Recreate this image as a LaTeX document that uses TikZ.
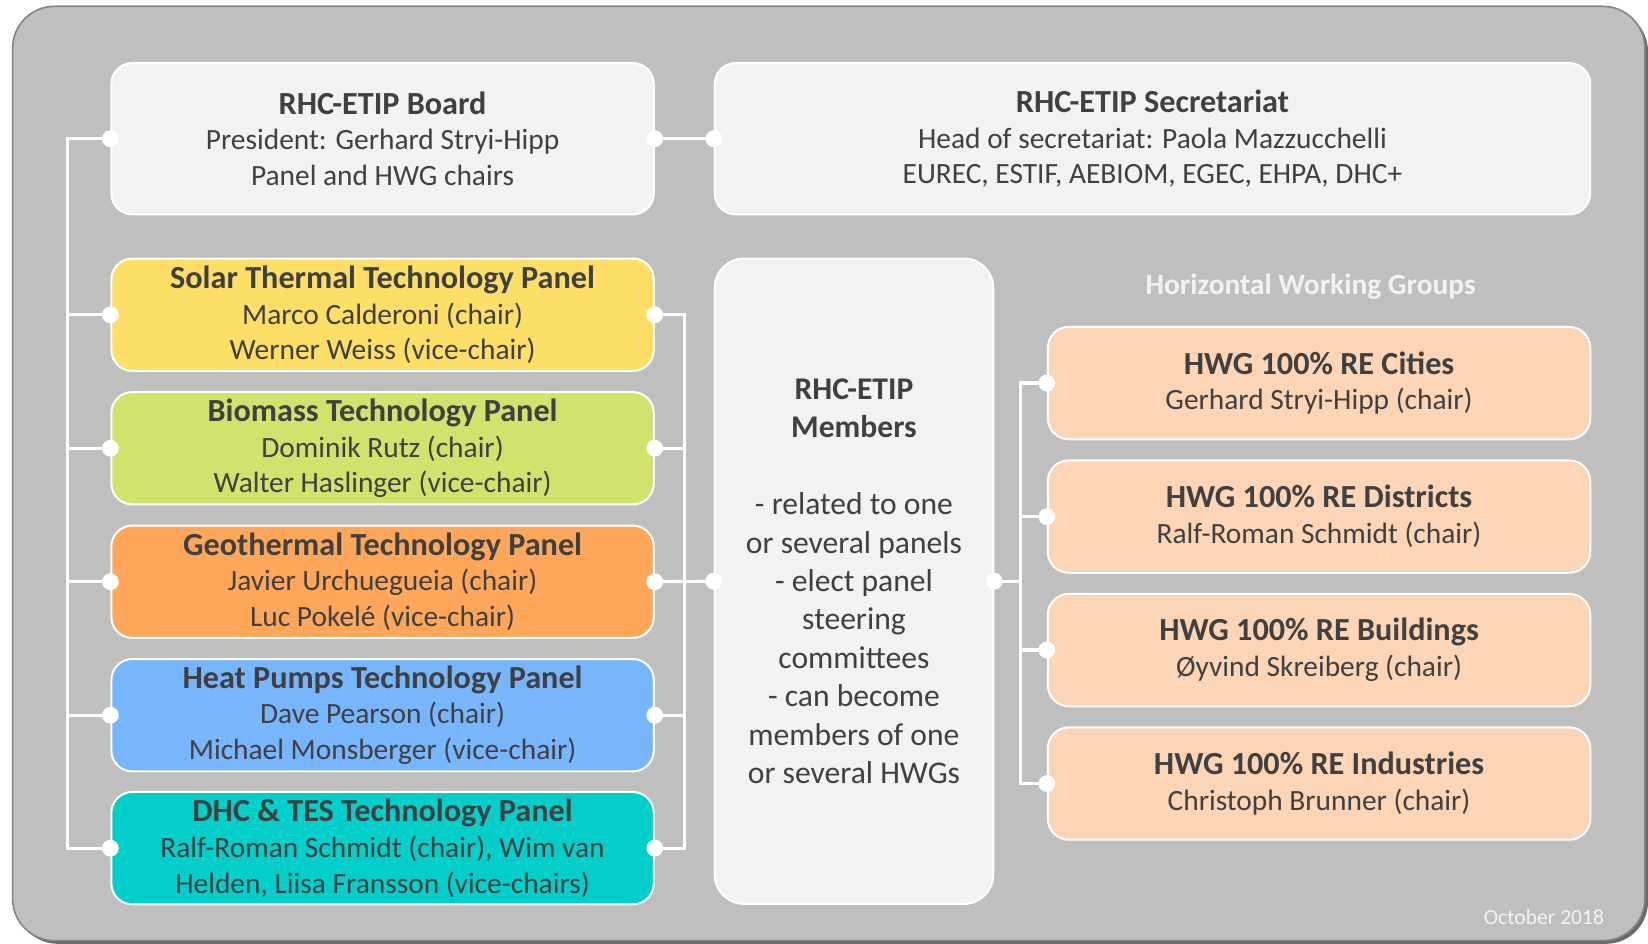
\documentclass[tikz,border=0pt]{standalone}
\usepackage{fontspec}
\setmainfont{Carlito}
\definecolor{bggray}{HTML}{BFBFBF}
\definecolor{rimgray}{HTML}{858585}
\definecolor{txtgray}{HTML}{404040}
\definecolor{boardfill}{HTML}{F2F2F2}
\definecolor{solarfill}{HTML}{FDDE66}
\definecolor{biofill}{HTML}{D3E16D}
\definecolor{geofill}{HTML}{FEA75B}
\definecolor{hpfill}{HTML}{77B6FD}
\definecolor{dhcfill}{HTML}{02CFCA}
\definecolor{hwgfill}{HTML}{FBD5B5}
\newcommand{\boxtitle}[1]{{\fontsize{16.1}{17.9}\selectfont\bfseries #1}}
\begin{document}
\begin{tikzpicture}[
    x=0.5255pt, y=-0.5255pt,
    box/.style={draw=white, line width=1pt, rounded corners=10.5pt, align=center,
      text=txtgray, inner sep=0pt, font=\fontsize{14.7}{17.9}\selectfont},
    topbox/.style={box, fill=boardfill, minimum height=75.7pt},
    panel/.style={box, minimum width=271.2pt, minimum height=56.2pt},
    link/.style={draw=white, line width=1.6pt},
    dot/.style={circle, fill=white, inner sep=0pt, minimum size=8.4pt},
  ]
  \useasboundingbox (0,0) rectangle (1568,898);
  % frame
  \fill[rimgray!80!black, rounded corners=21pt] (15,9) rectangle (1568,898);
  \filldraw[fill=bggray, draw=rimgray, line width=0.8pt, rounded corners=21pt]
    (12,6) rectangle (1565,895);

  % top row
  \node[topbox, minimum width=271.2pt] (board) at (364,132)
    {\boxtitle{RHC-ETIP Board}\\President: Gerhard Stryi-Hipp\\Panel and HWG chairs};
  \node[topbox, minimum width=437.7pt] (secr) at (1096.5,132)
    {\boxtitle{RHC-ETIP Secretariat}\\Head of secretariat: Paola Mazzucchelli\\EUREC, ESTIF, AEBIOM, EGEC, EHPA, DHC+};

  % technology panels
  \node[panel, fill=solarfill] (solar) at (364,299.5)
    {\boxtitle{Solar Thermal Technology Panel}\\Marco Calderoni (chair)\\Werner Weiss (vice-chair)};
  \node[panel, fill=biofill] (bio) at (364,426.5)
    {\boxtitle{Biomass Technology Panel}\\Dominik Rutz (chair)\\Walter Haslinger (vice-chair)};
  \node[panel, fill=geofill] (geo) at (364,553.5)
    {\boxtitle{Geothermal Technology Panel}\\Javier Urchuegueia (chair)\\Luc Pokelé (vice-chair)};
  \node[panel, fill=hpfill] (hp) at (364,680.5)
    {\boxtitle{Heat Pumps Technology Panel}\\Dave Pearson (chair)\\Michael Monsberger (vice-chair)};
  \node[panel, fill=dhcfill] (dhc) at (364,807)
    {\boxtitle{DHC \& TES Technology Panel}\\Ralf-Roman Schmidt (chair), Wim van\\Helden, Liisa Fransson (vice-chairs)};

  % members
  \node[box, fill=boardfill, rounded corners=14.7pt, minimum width=139.3pt,
    minimum height=322.7pt, font=\fontsize{15.8}{19.2}\selectfont] (members) at (812.5,553)
    {\textbf{RHC-ETIP}\\\textbf{Members}\\[19.2pt]- related to one\\or several panels\\- elect panel\\steering\\committees\\- can become\\members of one\\or several HWGs};

  % horizontal working groups
  \node[text=boardfill, font=\fontsize{14.7}{17.9}\selectfont\bfseries] (hwgtitle) at (1247,273)
    {Horizontal Working Groups};
  \node[panel, fill=hwgfill] (hwga) at (1255,364.5)
    {\boxtitle{HWG 100\% RE Cities}\\Gerhard Stryi-Hipp (chair)};
  \node[panel, fill=hwgfill] (hwgb) at (1255,491.5)
    {\boxtitle{HWG 100\% RE Districts}\\Ralf-Roman Schmidt (chair)};
  \node[panel, fill=hwgfill] (hwgc) at (1255,618.5)
    {\boxtitle{HWG 100\% RE Buildings}\\Øyvind Skreiberg (chair)};
  \node[panel, fill=hwgfill] (hwgd) at (1255,745.5)
    {\boxtitle{HWG 100\% RE Industries}\\Christoph Brunner (chair)};

  \node[text=boardfill, font=\fontsize{10.8}{13}\selectfont] (date) at (1469,873) {October 2018};

  % connectors
  \coordinate (lbus) at (64,0);
  \coordinate (rbus) at (651,0);
  \coordinate (hbus) at (971,0);
  \draw[link] (board.west) -| (lbus |- dhc.west) -- (dhc.west);
  \foreach \p in {solar,bio,geo,hp}
    \draw[link] (\p.west) -- (lbus |- \p.west);
  \draw[link] (solar.east) -| (rbus |- dhc.east) -- (dhc.east);
  \foreach \p in {bio,geo,hp}
    \draw[link] (\p.east) -- (rbus |- \p.east);
  \draw[link] (geo.east) -- (members.west);
  \draw[link] (board.east) -- (secr.west);
  \draw[link] (hwga.west) -| (hbus |- hwgd.west) -- (hwgd.west);
  \foreach \p in {hwgb,hwgc}
    \draw[link] (\p.west) -- (hbus |- \p.west);
  \draw[link] (members.east) -- (hbus |- members.east);

  % dots
  \foreach \p in {board,solar,bio,geo,hp,dhc,hwga,hwgb,hwgc,hwgd,members,secr}
    \node[dot] at (\p.west) {};
  \foreach \p in {board,solar,bio,geo,hp,dhc,members}
    \node[dot] at (\p.east) {};
\end{tikzpicture}
\end{document}
